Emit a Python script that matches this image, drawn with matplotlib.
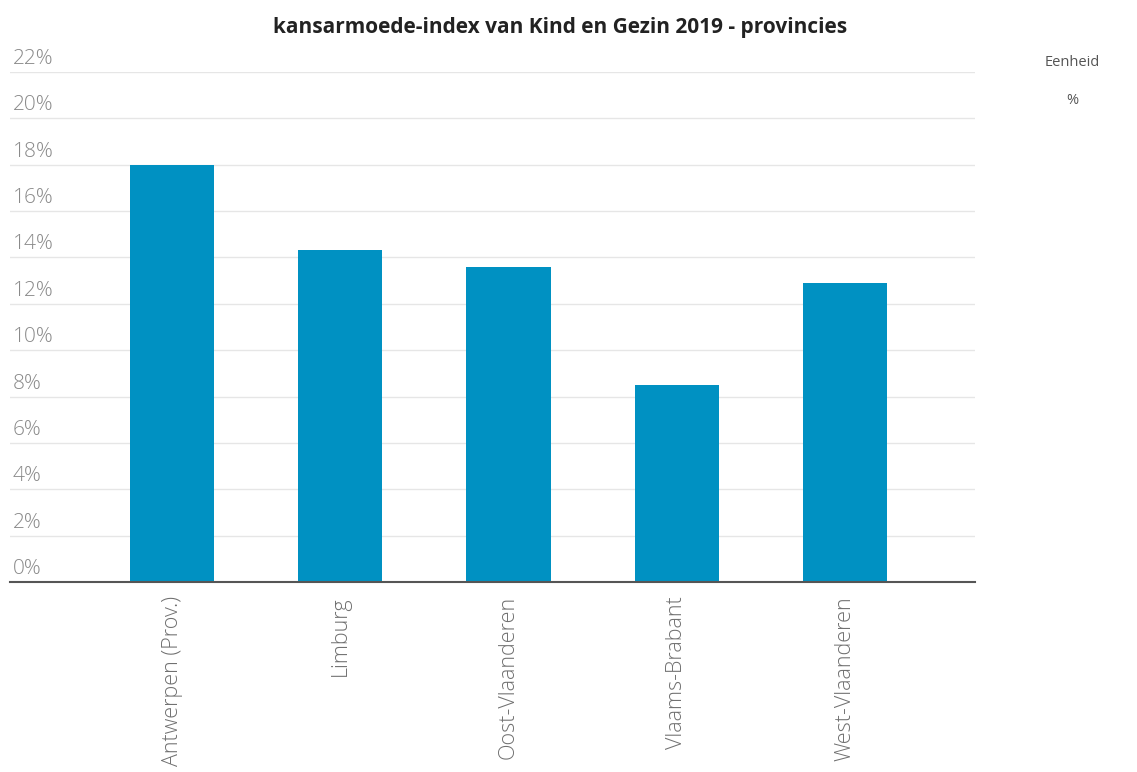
import matplotlib
matplotlib.use("Agg")
import matplotlib.pyplot as plt
import matplotlib.transforms as mtransforms
import numpy as np

categories = ["Antwerpen (Prov.)", "Limburg", "Oost-Vlaanderen", "Vlaams-Brabant", "West-Vlaanderen"]
values = [18.0, 14.3, 13.6, 8.5, 12.9]
yticks = [0, 2, 4, 6, 8, 10, 12, 14, 16, 18, 20, 22]
title = "kansarmoede-index van Kind en Gezin 2019 - provincies"
unit_label = "Eenheid"
unit = "%"

plt.rcParams['font.family'] = ['Open Sans', 'DejaVu Sans']

W, H = 1137, 772
fig = plt.figure(figsize=(W / 100, H / 100), dpi=100)
left, right, top, bottom = 10, 975, 72, 582
ax = fig.add_axes([left / W, 1 - bottom / H, (right - left) / W, (bottom - top) / H])

x = np.arange(len(categories))
ax.bar(x, values, width=0.5, color="#0091c2", zorder=3)
ax.set_xlim(-0.964, 4.774)
ax.set_ylim(0, 22)

for s in ["top", "right", "left"]:
    ax.spines[s].set_visible(False)
ax.spines["bottom"].set_color("#555555")
ax.spines["bottom"].set_linewidth(1.5)
ax.spines["bottom"].set_zorder(4)

ax.set_yticks(yticks)
ax.set_yticklabels([])
ax.tick_params(axis="y", length=0)
ax.yaxis.grid(True, color="#e6e6e6", linewidth=1, zorder=0)
ax.set_axisbelow(True)

trans = mtransforms.blended_transform_factory(ax.transAxes, ax.transData)
off = mtransforms.ScaledTranslation(3 / 100, 3 / 100, fig.dpi_scale_trans)
for t in yticks:
    ax.text(0.0, t, f"{t}%", transform=trans + off, ha="left", va="bottom",
            fontsize=15, color="#8a8a8a", fontweight="light")

ax.set_xticks(x)
ax.set_xticklabels(categories, rotation=90, fontsize=15.5, color="#707070", fontweight="light")
ax.tick_params(axis="x", length=0, pad=10)

fig.text(560 / W, 1 - 28 / H, title, ha="center", va="center", fontsize=15, fontweight="bold", color="#222222")
fig.text(1072 / W, 1 - 62 / H, unit_label, ha="center", va="center", fontsize=10.5, color="#555555")
fig.text(1072 / W, 1 - 100 / H, unit, ha="center", va="center", fontsize=10.5, color="#555555")

fig.savefig("out.png", dpi=100)
